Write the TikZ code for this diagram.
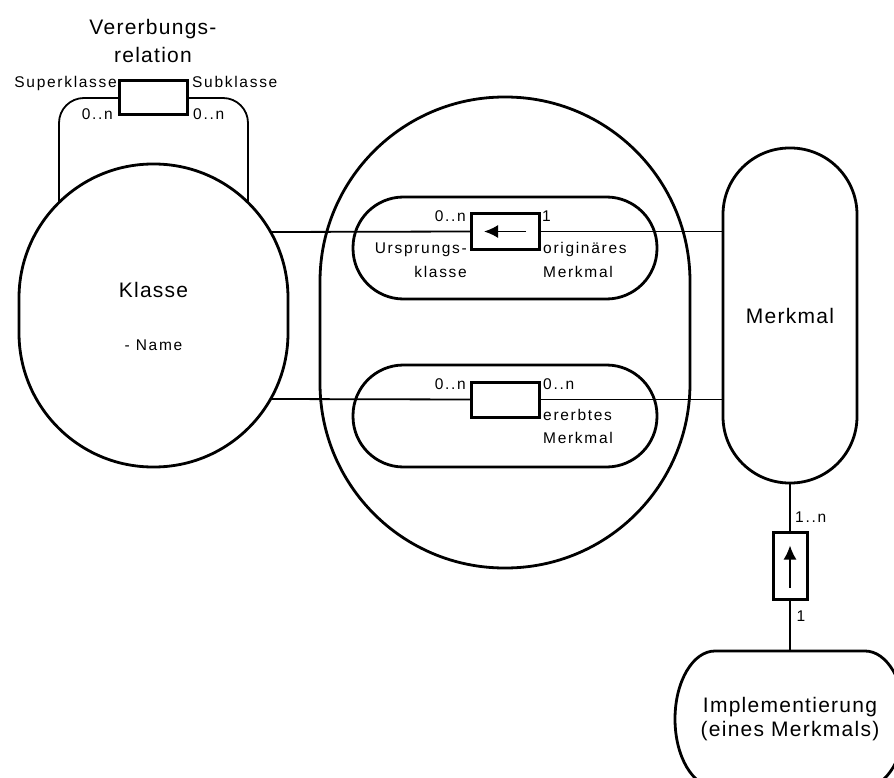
\documentclass[tikz,border=0pt]{standalone}
\usepackage{fontspec}
\setmainfont{Liberation Sans}[LetterSpace=6]
\newfontfamily\labelfont{Liberation Sans}[LetterSpace=11]
\usetikzlibrary{arrows.meta,calc}

\tikzset{
  blob/.style={draw, line width=2.8pt, inner sep=0pt, outer sep=0pt},
  relbox/.style={draw, line width=3pt, fill=white, inner sep=0pt, outer sep=0pt},
  conn/.style={line width=1.8pt},
  dirarrow/.style={line width=1.8pt, -{Latex[length=14pt,width=13pt]}},
  bigtext/.style={font=\fontsize{21}{25}\selectfont, inner sep=0pt},
  smalltext/.style={font=\labelfont\fontsize{15.5}{18}\selectfont, inner sep=0pt},
}

\begin{document}
\begin{tikzpicture}[x=1pt, y=-1pt]
\useasboundingbox (0,0) rectangle (894,778);
\clip (0,0) rectangle (894,778);

% ---- entity shapes ----
\node[blob, minimum width=269pt, minimum height=303pt, rounded corners=134pt] (klasse) at (153.5,315.5) {};
\node[blob, minimum width=370pt, minimum height=471pt, rounded corners=184.5pt] (zuord) at (505,332.5) {};
\node[blob, minimum width=304pt, minimum height=102pt, rounded corners=50.5pt] (pillA) at (505,248) {};
\node[blob, minimum width=304pt, minimum height=102pt, rounded corners=50.5pt] (pillB) at (505,416) {};
\node[blob, minimum width=134pt, minimum height=335pt, rounded corners=66.5pt] (merkmal) at (790,315.5) {};
\node[inner sep=0pt, minimum width=230pt, minimum height=136pt] (impl) at (790,719) {};
\draw[line width=2.8pt] (715,651) -- (865,651)
  arc[start angle=-90, end angle=90, x radius=40, y radius=68]
  -- (715,787)
  arc[start angle=90, end angle=270, x radius=40, y radius=68] -- cycle;

% ---- connector end points on the class outline ----
\coordinate (inhL) at (59,202.8);
\coordinate (inhR) at (248,202.8);
\coordinate (kTop) at (270.4,232);
\coordinate (kBot) at (270.4,399);

% ---- relationship boxes ----
\node[relbox, minimum width=68pt, minimum height=34pt] (vbox) at (153,98) {};
\node[relbox, minimum width=68pt, minimum height=35pt] (orig) at (505,231.5) {};
\node[relbox, minimum width=68pt, minimum height=35pt] (erb) at (505,399.5) {};
\node[relbox, minimum width=34pt, minimum height=67pt] (impbox) at (790,565.5) {};

% ---- connectors ----
\draw[conn, rounded corners=25pt] (inhL) |- (vbox.west);
\draw[conn, rounded corners=25pt] (inhR) |- (vbox.east);
\draw[conn] (kTop) -- (orig.west);
\draw[conn] (orig.east) -- (orig.east -| merkmal.west);
\draw[conn] (kBot) -- (erb.west);
\draw[conn] (erb.east) -- (erb.east -| merkmal.west);
\draw[conn] (merkmal.south) -- (impbox.north);
\draw[conn] (impbox.south) -- (impl.north);

% ---- direction arrows inside boxes ----
\draw[dirarrow] ($(orig.center)+(21,0)$) -- ($(orig.center)+(-21,0)$);
\draw[dirarrow] ($(impbox.center)+(0,22)$) -- ($(impbox.center)+(0,-20)$);

% ---- texts ----
\node[bigtext, anchor=base] (vt1) at (153,35) {Vererbungs-};
\node[bigtext, anchor=base] (vt2) at (153,63) {relation};
\node[smalltext, anchor=base east] (sup) at (117,88) {Superklasse};
\node[smalltext, anchor=base west] (sub) at (192,88) {Subklasse};
\node[smalltext, anchor=base east] (vcl) at (113,119.5) {0..n};
\node[smalltext, anchor=base west] (vcr) at (193,119.5) {0..n};

\node[bigtext, anchor=base] (kname) at (153.5,297) {Klasse};
\node[smalltext, anchor=base] (kattr) at (153.5,350) {- Name};

\node[smalltext, anchor=base east] (oc1) at (466,222) {0..n};
\node[smalltext, anchor=base west] (oc2) at (542,222) {1};
\node[smalltext, anchor=base east] (ou1) at (467,254) {Ursprungs-};
\node[smalltext, anchor=base east] (ou2) at (467,277) {klasse};
\node[smalltext, anchor=base west] (om1) at (543,254) {originäres};
\node[smalltext, anchor=base west] (om2) at (543,277) {Merkmal};

\node[smalltext, anchor=base east] (ec1) at (466,389) {0..n};
\node[smalltext, anchor=base west] (ec2) at (543,389) {0..n};
\node[smalltext, anchor=base west] (em1) at (543,420.5) {ererbtes};
\node[smalltext, anchor=base west] (em2) at (543,443) {Merkmal};

\node[bigtext, anchor=base] (mname) at (790,323) {Merkmal};
\node[smalltext, anchor=base west] (ic1) at (795,522.5) {1..n};
\node[smalltext, anchor=base west] (ic2) at (796.5,621.5) {1};

\node[bigtext, anchor=base] (iname1) at (790,712) {Implementierung};
\node[bigtext, anchor=base] (iname2) at (790,736.5) {(eines Merkmals)};
\end{tikzpicture}
\end{document}
